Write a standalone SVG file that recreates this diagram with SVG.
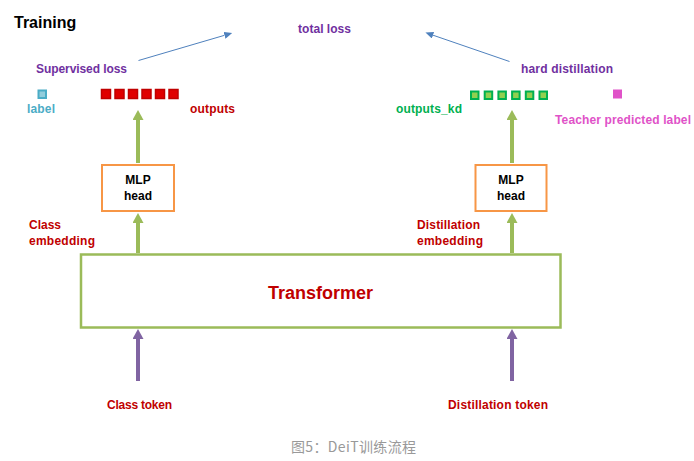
<svg xmlns="http://www.w3.org/2000/svg" width="694" height="461" viewBox="0 0 694 461">
<style>
  text { font-family: "Liberation Sans", Arial, sans-serif; font-weight: bold; }
  .purple { fill: #7030a0; font-size: 12px; }
  .red { fill: #c00000; font-size: 12px; }
  .black { fill: #000000; font-size: 12px; }
  .mlp { fill: #ffffff; stroke: #f79646; stroke-width: 2; }
  .green-line { stroke: #9bbb59; stroke-width: 4; fill: none; }
  .purple-line { stroke: #8064a2; stroke-width: 4; fill: none; }
  .blue-line { stroke: #4f81bd; stroke-width: 1; fill: none; }
  .rsq { fill: #e00000; stroke: #c00000; stroke-width: 1.5; }
  .gsq { fill: #92d050; stroke: #00b050; stroke-width: 2; }
</style>
<defs>
  <marker id="headGreen" markerUnits="userSpaceOnUse" viewBox="0 0 10 11" markerWidth="10" markerHeight="11" refX="0" refY="5.5" orient="auto">
    <path d="M0,0 L10,5.5 L0,11 z" fill="#9bbb59"/>
  </marker>
  <marker id="headPurple" markerUnits="userSpaceOnUse" viewBox="0 0 10 11" markerWidth="10" markerHeight="11" refX="0" refY="5.5" orient="auto">
    <path d="M0,0 L10,5.5 L0,11 z" fill="#8064a2"/>
  </marker>
  <marker id="headBlue" markerUnits="userSpaceOnUse" viewBox="0 0 8 7" markerWidth="8" markerHeight="7" refX="0" refY="3.5" orient="auto">
    <path d="M0,0 L8,3.5 L0,7 z" fill="#4f81bd"/>
  </marker>
</defs>
<rect width="694" height="461" fill="#ffffff"/>

<text x="14" y="28" style="font-size:16px" fill="#000">Training</text>

<g id="total-loss"><text class="purple" x="298" y="33" textLength="53">total loss</text></g>
<g id="supervised-loss"><text class="purple" x="36" y="73" textLength="91">Supervised loss</text></g>
<g id="hard-distillation"><text class="purple" x="521" y="73" textLength="92">hard distillation</text></g>

<g id="label">
  <rect x="38.5" y="90.5" width="7.5" height="7.5" fill="#92cddc" stroke="#4bacc6" stroke-width="2"/>
  <text x="27" y="113" style="font-size:12px" fill="#4bacc6" textLength="28">label</text>
</g>

<g id="outputs">
  <rect class="rsq" x="101.5" y="89.5" width="9" height="9"/>
  <rect class="rsq" x="115" y="89.5" width="9" height="9"/>
  <rect class="rsq" x="128.5" y="89.5" width="9" height="9"/>
  <rect class="rsq" x="142" y="89.5" width="9" height="9"/>
  <rect class="rsq" x="155.5" y="89.5" width="9" height="9"/>
  <rect class="rsq" x="169" y="89.5" width="9" height="9"/>
  <text class="red" x="190" y="113" textLength="45">outputs</text>
</g>

<g id="outputs-kd">
  <rect class="gsq" x="471" y="91.5" width="7.5" height="7.5"/>
  <rect class="gsq" x="484.7" y="91.5" width="7.5" height="7.5"/>
  <rect class="gsq" x="498.4" y="91.5" width="7.5" height="7.5"/>
  <rect class="gsq" x="512.1" y="91.5" width="7.5" height="7.5"/>
  <rect class="gsq" x="525.8" y="91.5" width="7.5" height="7.5"/>
  <rect class="gsq" x="539.5" y="91.5" width="7.5" height="7.5"/>
  <text x="396" y="113" style="font-size:12px" fill="#00b050" textLength="66">outputs_kd</text>
</g>

<g id="teacher-label">
  <rect x="613" y="89.5" width="9" height="9" fill="#e052c8"/>
  <text x="555" y="123.5" style="font-size:12px" fill="#e052c8" textLength="136">Teacher predicted label</text>
</g>

<g id="mlp-head-class">
  <rect class="mlp" x="102" y="165" width="72" height="46"/>
  <text class="black" x="138" y="183.5" text-anchor="middle">MLP</text>
  <text class="black" x="138" y="200" text-anchor="middle">head</text>
</g>

<g id="mlp-head-distill">
  <rect class="mlp" x="475.5" y="165" width="71" height="46"/>
  <text class="black" x="511" y="183.5" text-anchor="middle">MLP</text>
  <text class="black" x="511" y="200" text-anchor="middle">head</text>
</g>

<g id="class-embedding">
  <text class="red" x="29" y="228.5">Class</text>
  <text class="red" x="29" y="244.5" textLength="66">embedding</text>
</g>

<g id="distillation-embedding">
  <text class="red" x="417" y="228.5" textLength="63">Distillation</text>
  <text class="red" x="417" y="244.5" textLength="66">embedding</text>
</g>

<g id="transformer">
  <rect x="81" y="254.5" width="479.5" height="73" fill="#ffffff" stroke="#9bbb59" stroke-width="2.5"/>
  <text x="320.5" y="298.5" text-anchor="middle" style="font-size:18px" fill="#c00000">Transformer</text>
</g>

<g id="class-token"><text class="red" x="107" y="409" textLength="65">Class token</text></g>
<g id="distillation-token"><text class="red" x="448" y="409" textLength="100">Distillation token</text></g>

<g id="connectors">
  <line class="blue-line" x1="138.5" y1="60.5" x2="224.5" y2="35.3" marker-end="url(#headBlue)"/>
  <line class="blue-line" x1="509.5" y1="61.5" x2="433" y2="35.2" marker-end="url(#headBlue)"/>
  <line class="green-line" x1="138" y1="163" x2="138" y2="120" marker-end="url(#headGreen)"/>
  <line class="green-line" x1="512" y1="163" x2="512" y2="120" marker-end="url(#headGreen)"/>
  <line class="green-line" x1="138" y1="253" x2="138" y2="223" marker-end="url(#headGreen)"/>
  <line class="green-line" x1="512" y1="253" x2="512" y2="223" marker-end="url(#headGreen)"/>
  <line class="purple-line" x1="138" y1="381" x2="138" y2="339" marker-end="url(#headPurple)"/>
  <line class="purple-line" x1="512" y1="381" x2="512" y2="339" marker-end="url(#headPurple)"/>
</g>

<text x="291" y="452" style="font-family:'Noto Sans CJK SC','Liberation Sans',sans-serif;font-weight:normal;font-size:14px" fill="#999999" textLength="125">图5：DeiT训练流程</text>
</svg>
